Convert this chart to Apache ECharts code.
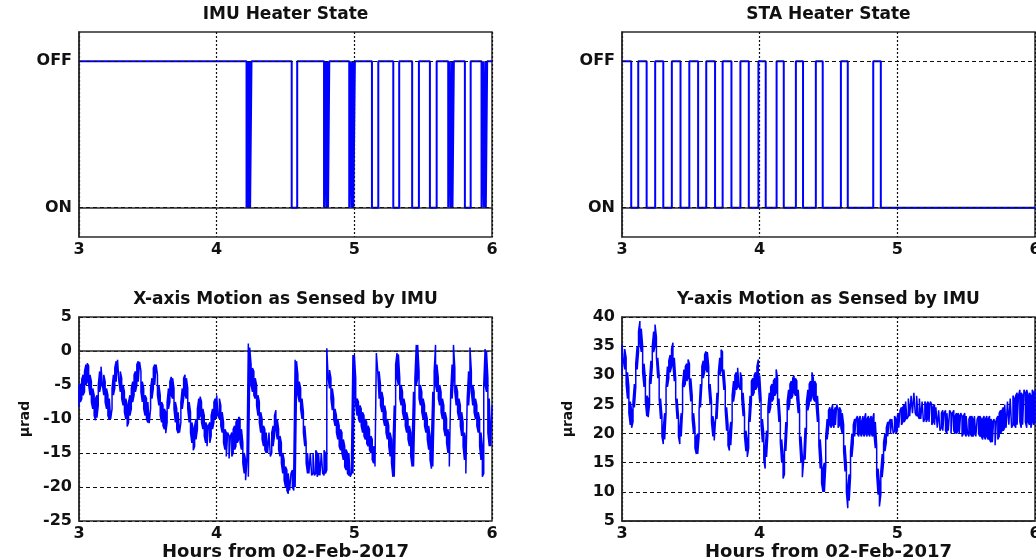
<!DOCTYPE html>
<html>
<head>
<meta charset="utf-8">
<title>Heater State and IMU Motion</title>
<script src="https://cdn.jsdelivr.net/npm/echarts@6/dist/echarts.min.js"></script>
<style>
  html, body { margin: 0; padding: 0; background: #fff; }
  #main { width: 1036px; height: 558px; }
</style>
</head>
<body>
<div id="main"></div>
<script>
// hours from 02-Feb-2017
var hourTicks = [3, 4, 5, 6];
var stateNames = {0: 'ON', 1: 'OFF'};

// heater toggles: time (h) and state from that time on (1 = OFF, 0 = ON)
var imuHeaterTimes = [3.0,
    4.217, 4.226, 4.230, 4.240, 4.243, 4.253,
    4.545, 4.585,
    4.780, 4.792, 4.796, 4.806, 4.809, 4.818,
    4.963, 4.975, 4.979, 4.990, 4.993, 5.004,
    5.128, 5.174,
    5.283, 5.326,
    5.420, 5.469,
    5.549, 5.598,
    5.682, 5.694, 5.698, 5.710, 5.713, 5.723,
    5.803, 5.845,
    5.924, 5.936, 5.940, 5.952, 5.955, 5.965,
    6.0];
var imuHeaterStates = [1,
    0, 1, 0, 1, 0, 1,
    0, 1,
    0, 1, 0, 1, 0, 1,
    0, 1, 0, 1, 0, 1,
    0, 1,
    0, 1,
    0, 1,
    0, 1,
    0, 1, 0, 1, 0, 1,
    0, 1,
    0, 1, 0, 1, 0, 1,
    1];

var staHeaterTimes = [3.0, 3.067,
    3.118, 3.179, 3.241, 3.300, 3.362, 3.425, 3.489, 3.553,
    3.612, 3.676, 3.731, 3.795, 3.860, 3.921, 3.991, 4.044,
    4.123, 4.175, 4.263, 4.315, 4.408, 4.458, 4.590, 4.640,
    4.825, 4.880, 6.0];
var staHeaterStates = [1, 0,
    1, 0, 1, 0, 1, 0, 1, 0,
    1, 0, 1, 0, 1, 0, 1, 0,
    1, 0, 1, 0, 1, 0, 1, 0,
    1, 0, 0];

// IMU motion, read as the low and high edge of the noise band
// in every 0.01 h slot starting at 3.00 h (one row = 0.1 h)
var motionStart = 3;
var motionStep = 0.01;

var xMotionLow = [
    -8.2, -7.5, -7.0, -6.5, -6.0, -5.0, -4.5, -5.0, -6.5, -7.5,
    -8.5, -9.5, -10.2, -9.8, -8.0, -6.0, -5.0, -5.0, -6.5, -7.5,
    -8.5, -9.5, -10.1, -10.0, -8.5, -6.5, -5.5, -4.5, -4.3, -4.5,
    -6.0, -7.0, -8.0, -9.0, -10.0, -11.1, -10.5, -9.5, -8.5, -7.5,
    -6.5, -6.0, -5.0, -4.5, -4.5, -6.0, -7.5, -8.5, -9.5, -10.0,
    -10.5, -10.6, -8.5, -7.0, -5.5, -5.0, -5.0, -6.5, -8.0, -9.5,
    -10.5, -11.0, -11.5, -12.1, -10.5, -8.5, -7.5, -6.5, -7.0, -8.5,
    -10.5, -11.5, -12.1, -12.0, -10.5, -8.5, -7.0, -6.5, -7.0, -8.5,
    -10.5, -12.0, -13.5, -14.6, -14.0, -13.0, -11.5, -10.0, -9.5, -10.5,
    -11.5, -12.5, -13.5, -14.0, -14.0, -13.5, -12.5, -11.5, -10.5, -10.0,
    -9.5, -9.5, -10.0, -11.0, -12.0, -13.5, -14.5, -15.5, -15.5, -15.8,
    -15.8, -15.5, -15.0, -14.5, -14.0, -13.5, -13.0, -13.5, -14.5, -16.5,
    -18.0, -19.0, -19.0, -18.5, -3.0, -5.0, -6.0, -6.5, -7.0, -8.0,
    -9.5, -10.5, -12.0, -13.0, -14.0, -14.5, -15.0, -15.0, -15.0, -15.5,
    -15.0, -14.0, -12.5, -11.5, -13.0, -14.5, -15.5, -16.5, -18.0, -19.0,
    -20.0, -20.5, -21.0, -20.5, -20.5, -20.0, -20.5, -20.0, -5.0, -6.5,
    -7.5, -8.5, -10.0, -12.0, -14.0, -16.5, -18.0, -18.0, -18.0, -18.3,
    -18.0, -18.3, -18.0, -18.5, -18.0, -18.3, -18.5, -18.0, -18.3, -18.0,
    -17.5, -4.0, -5.5, -7.0, -8.7, -10.0, -11.0, -12.0, -13.0, -14.0,
    -14.6, -15.0, -16.0, -17.0, -17.5, -18.0, -18.3, -18.5, -18.0, -18.0,
    -5.0, -8.0, -9.5, -10.0, -10.5, -11.0, -12.0, -12.5, -13.0, -13.6,
    -14.0, -14.5, -15.0, -16.0, -16.5, -17.0, -17.0, -3.0, -7.0, -8.0,
    -9.0, -10.0, -11.0, -12.0, -13.0, -14.0, -15.5, -16.5, -18.5, -18.5,
    -8.0, -4.0, -5.0, -7.0, -8.0, -9.0, -10.0, -11.0, -12.0, -13.0,
    -14.0, -15.5, -17.0, -17.0, -8.0, -5.0, -4.0, -7.0, -8.0, -9.0,
    -10.0, -11.0, -12.0, -13.0, -14.5, -16.0, -17.3, -17.0, -8.0, -5.0,
    -6.0, -7.0, -8.0, -9.0, -10.0, -11.5, -12.5, -13.5, -15.0, -17.0,
    -17.0, -7.0, -4.0, -6.0, -8.0, -9.0, -10.0, -11.0, -12.5, -14.0,
    -16.0, -18.0, -18.0, -8.0, -5.0, -6.0, -8.0, -9.0, -10.0, -11.0,
    -12.0, -14.0, -16.0, -18.5, -18.0, -5.0, -6.0, -12.0, -14.0, -14.0,
    -14.0
];
var xMotionHigh = [
    -5.2, -4.8, -4.2, -3.5, -3.0, -2.0, -1.8, -2.2, -3.5, -4.5,
    -5.5, -6.5, -7.0, -6.5, -5.0, -3.0, -2.3, -2.2, -3.5, -4.5,
    -5.5, -6.5, -7.0, -7.0, -5.5, -3.5, -2.5, -1.5, -1.3, -1.5,
    -3.0, -4.0, -5.0, -6.0, -7.0, -8.0, -7.5, -6.5, -5.5, -4.5,
    -3.5, -3.0, -2.0, -1.5, -1.6, -3.0, -4.5, -5.5, -6.5, -7.0,
    -7.5, -7.5, -5.5, -4.0, -2.5, -2.0, -2.0, -3.5, -5.0, -6.5,
    -7.5, -8.0, -8.5, -9.0, -7.5, -5.5, -4.5, -3.8, -4.0, -5.5,
    -7.5, -8.5, -9.0, -9.0, -7.5, -5.5, -4.0, -3.5, -4.0, -5.5,
    -7.5, -9.0, -10.5, -11.5, -11.0, -10.0, -8.5, -7.0, -6.7, -7.5,
    -8.5, -9.5, -10.5, -11.0, -11.0, -10.5, -9.5, -8.5, -7.5, -7.0,
    -6.5, -6.5, -7.0, -8.0, -9.0, -10.5, -11.5, -12.0, -12.0, -12.5,
    -12.5, -12.0, -11.5, -11.0, -10.5, -10.0, -9.7, -10.0, -11.5, -13.5,
    -15.0, -16.0, -16.0, 1.1, 0.5, -2.0, -2.5, -3.0, -4.0, -5.0,
    -6.5, -7.5, -9.0, -10.0, -11.0, -11.5, -12.0, -12.0, -12.0, -12.0,
    -12.0, -11.0, -9.5, -8.7, -10.0, -11.5, -12.5, -13.5, -15.0, -16.0,
    -17.0, -17.5, -18.0, -18.0, -18.0, -17.5, -18.0, -1.3, -1.5, -3.5,
    -4.5, -5.5, -7.0, -9.0, -11.0, -13.5, -15.0, -15.0, -15.0, -15.0,
    -15.0, -15.0, -14.6, -15.0, -15.0, -14.8, -15.0, -15.0, -14.6, -15.0,
    0.4, 0.4, -2.8, -4.0, -5.5, -7.0, -8.5, -9.5, -10.0, -11.0,
    -11.5, -12.0, -13.0, -14.0, -14.5, -15.0, -15.0, -15.0, -15.0, -0.6,
    -0.6, -4.0, -7.0, -7.5, -8.0, -8.5, -9.0, -9.5, -10.0, -10.5,
    -11.0, -11.5, -12.5, -13.0, -14.0, -14.5, -0.3, -0.3, -3.0, -5.0,
    -6.0, -7.0, -8.0, -9.0, -10.0, -11.0, -12.0, -13.0, -14.5, -8.0,
    -2.0, -0.3, -0.5, -4.0, -5.0, -6.0, -7.0, -8.0, -9.0, -10.0,
    -11.0, -12.0, -13.5, -6.0, -4.0, 0.9, 0.9, -3.0, -5.0, -6.0,
    -7.0, -8.0, -9.0, -10.0, -11.0, -12.5, -13.5, -6.0, -3.0, 0.9,
    -2.0, -4.0, -5.0, -6.0, -7.0, -8.0, -9.0, -10.0, -11.5, -13.0,
    -6.0, -2.0, 0.9, -2.5, -5.0, -6.0, -7.0, -8.0, -9.0, -10.5,
    -12.0, -13.5, -7.0, -3.0, 0.5, -3.0, -5.0, -6.0, -7.0, -8.0,
    -9.0, -10.0, -12.0, -14.0, -5.0, 0.3, 0.0, -4.0, -7.0, -7.0,
    -8.0
];

var yMotionLow = [
    30.0, 32.5, 31.0, 28.5, 26.0, 23.5, 21.5, 21.0, 22.0, 24.5,
    28.0, 31.0, 34.0, 35.5, 34.0, 30.5, 28.0, 25.5, 23.0, 22.8,
    25.0, 28.5, 31.5, 34.0, 35.0, 33.0, 29.5, 26.0, 22.5, 19.5,
    18.2, 19.0, 23.5, 28.0, 29.5, 30.5, 31.5, 32.0, 29.0, 26.0,
    22.5, 19.5, 18.2, 19.5, 24.0, 28.0, 28.5, 29.0, 29.5, 28.5,
    25.5, 22.5, 20.0, 17.5, 16.5, 16.5, 19.5, 24.5, 28.5, 29.5,
    30.5, 31.0, 30.5, 28.0, 25.0, 22.0, 19.5, 18.8, 19.0, 22.5,
    27.0, 30.0, 31.0, 30.5, 27.5, 24.0, 20.5, 18.0, 17.1, 18.0,
    22.0, 25.5, 27.0, 27.5, 28.0, 28.0, 27.5, 26.0, 23.0, 19.5,
    17.0, 16.0, 17.5, 22.0, 25.5, 26.5, 27.0, 27.5, 28.0, 28.5,
    25.5, 21.5, 18.5, 15.5, 14.0, 16.0, 20.0, 23.5, 24.5, 25.5,
    26.0, 26.5, 27.0, 25.5, 22.0, 18.5, 15.0, 12.3, 13.0, 17.0,
    21.5, 24.0, 25.5, 26.0, 26.5, 27.0, 26.5, 26.0, 23.5, 19.0,
    15.0, 12.5, 12.5, 15.5, 21.0, 24.0, 25.0, 25.5, 26.5, 26.0,
    25.5, 25.0, 22.0, 18.0, 14.0, 11.5, 10.0, 10.0, 14.5, 19.0,
    21.0, 21.5, 21.0, 21.5, 21.0, 21.5, 21.5, 21.0, 21.5, 21.0,
    20.0, 17.0, 13.5, 10.0, 7.2, 8.5, 12.5, 16.0, 18.5, 19.5,
    19.5, 20.0, 19.5, 20.0, 19.5, 20.0, 19.5, 20.0, 19.5, 20.0,
    19.5, 20.0, 19.5, 20.0, 17.5, 13.0, 9.5, 7.5, 9.5, 12.5,
    15.0, 17.0, 18.5, 19.5, 19.5, 20.0, 20.0, 20.0, 20.5, 20.0,
    20.5, 21.0, 21.0, 21.5, 22.0, 22.0, 22.5, 22.5, 23.0, 23.0,
    23.0, 23.5, 23.5, 23.5, 23.0, 23.0, 22.5, 22.5, 22.5, 22.0,
    22.5, 22.0, 22.5, 22.0, 22.0, 21.5, 22.0, 21.5, 21.5, 21.0,
    21.0, 20.5, 21.0, 20.5, 20.5, 20.5, 20.0, 20.5, 20.5, 20.0,
    20.0, 20.5, 20.0, 20.0, 20.5, 20.0, 20.0, 19.5, 20.0, 20.0,
    19.5, 20.0, 19.5, 20.0, 19.5, 19.5, 20.0, 19.5, 19.5, 20.0,
    19.5, 19.5, 19.0, 19.5, 19.0, 19.5, 19.0, 19.0, 18.5, 18.5,
    18.5, 18.0, 18.2, 19.0, 19.5, 20.0, 20.5, 20.5, 21.0, 21.0,
    21.0, 21.5, 21.5, 21.0, 21.5, 21.5, 21.0, 21.5, 21.5, 22.0,
    21.0, 21.5, 21.5, 22.0, 21.0, 22.0, 21.5, 21.0, 22.0, 21.5,
    22.0
];
var yMotionHigh = [
    35.3, 35.3, 34.5, 33.0, 30.5, 28.0, 25.5, 24.0, 25.5, 28.5,
    32.0, 35.0, 37.5, 39.3, 38.0, 35.0, 32.0, 29.5, 26.5, 26.0,
    29.0, 32.5, 35.0, 37.5, 38.7, 36.5, 33.0, 30.0, 26.0, 23.0,
    21.0, 23.5, 28.0, 31.5, 32.5, 33.5, 34.5, 35.6, 33.0, 29.5,
    26.0, 23.0, 21.0, 23.5, 28.5, 31.0, 31.5, 32.0, 32.7, 32.0,
    29.5, 26.5, 23.5, 21.0, 19.5, 20.0, 24.0, 28.5, 31.5, 32.5,
    33.5, 34.1, 34.0, 31.5, 28.5, 25.5, 23.0, 21.5, 22.5, 27.0,
    30.5, 33.0, 34.4, 34.0, 31.0, 28.0, 24.5, 21.5, 20.0, 22.0,
    26.5, 29.0, 30.0, 30.5, 31.3, 31.0, 30.5, 29.5, 27.0, 23.5,
    20.5, 19.0, 22.0, 26.5, 29.0, 29.5, 30.0, 30.5, 31.5, 32.7,
    30.0, 26.0, 22.5, 20.0, 17.5, 20.5, 24.5, 27.0, 28.0, 28.5,
    29.0, 29.5, 31.0, 29.5, 26.0, 22.5, 19.0, 16.0, 17.0, 22.0,
    25.5, 27.5, 28.5, 29.0, 29.5, 29.9, 29.5, 29.0, 27.5, 24.0,
    19.5, 16.0, 15.5, 21.0, 25.5, 27.5, 28.5, 29.0, 30.5, 29.5,
    29.0, 28.5, 26.5, 22.5, 19.0, 15.5, 14.0, 15.0, 19.5, 22.5,
    24.0, 24.5, 24.0, 25.0, 24.0, 24.5, 25.0, 24.0, 24.5, 24.0,
    23.5, 21.5, 18.0, 14.5, 11.0, 13.0, 17.0, 20.0, 21.5, 22.5,
    22.5, 23.0, 22.5, 23.0, 22.0, 23.0, 22.5, 23.5, 22.5, 23.0,
    22.5, 23.0, 22.5, 23.5, 22.0, 18.0, 14.0, 11.5, 13.5, 16.5,
    18.5, 20.0, 21.0, 22.0, 22.0, 22.5, 22.5, 22.5, 23.0, 22.5,
    23.0, 23.5, 24.0, 24.5, 24.5, 25.0, 25.5, 25.5, 26.0, 26.0,
    26.5, 26.5, 27.0, 27.0, 26.5, 26.5, 26.0, 26.0, 25.5, 25.5,
    25.5, 25.0, 25.5, 25.0, 25.5, 25.0, 24.5, 25.0, 24.5, 24.5,
    24.0, 24.0, 23.5, 24.0, 23.5, 24.0, 23.5, 23.5, 24.0, 23.5,
    23.5, 24.0, 23.0, 23.5, 23.5, 23.0, 23.5, 23.0, 23.0, 23.5,
    23.0, 23.0, 22.5, 23.0, 23.0, 22.5, 23.0, 23.0, 22.5, 23.0,
    23.0, 22.5, 22.5, 23.0, 22.5, 23.0, 22.5, 23.0, 22.5, 22.0,
    22.5, 22.0, 22.5, 23.0, 23.5, 24.0, 24.0, 24.5, 25.0, 25.0,
    25.5, 25.5, 26.0, 26.0, 26.5, 26.0, 26.5, 27.0, 26.5, 27.5,
    27.0, 26.5, 27.5, 27.0, 27.5, 26.5, 27.0, 26.5, 27.5, 27.0,
    27.5
];

function pairs(xs, ys) {
    var out = [];
    for (var i = 0; i < ys.length; i++) out.push([xs[i], ys[i]]);
    return out;
}
// trace the band: each slot is drawn low->high or high->low in turn
function band(lows, highs) {
    var out = [];
    for (var i = 0; i < lows.length; i++) {
        var t = +(motionStart + i * motionStep).toFixed(3);
        if (i % 2 === 0) {
            out.push([t, lows[i]], [t, highs[i]]);
        } else {
            out.push([t, highs[i]], [t, lows[i]]);
        }
    }
    return out;
}

var myChart = echarts.init(document.getElementById('main'), null, {renderer: 'canvas'});

var FONT = 'DejaVu Sans';
var BLUE = '#0000ff';
var FRAME = '#2b2b2b';

// plot boxes: IMU heater, STA heater, X motion, Y motion
var boxes = [
    {left: 79,  top: 32,  width: 413, height: 205},
    {left: 622, top: 32,  width: 413, height: 205},
    {left: 79,  top: 317, width: 413, height: 204},
    {left: 622, top: 317, width: 413, height: 204}
];
var titles = ['IMU Heater State', 'STA Heater State',
              'X-axis Motion as Sensed by IMU', 'Y-axis Motion as Sensed by IMU'];

var grid = boxes.map(function (b) {
    return {
        left: b.left, top: b.top, width: b.width, height: b.height,
        show: true, borderColor: FRAME, borderWidth: 1.5,
        containLabel: false, outerBoundsMode: 'none'
    };
});

var title = boxes.map(function (b, i) {
    return {
        text: titles[i],
        left: b.left + b.width / 2,
        top: b.top - 26,
        textAlign: 'center',
        padding: 0,
        textStyle: {fontFamily: FONT, fontWeight: 'bold', fontSize: 17, color: '#111'}
    };
});

var xAxis = boxes.map(function (b, i) {
    var ax = {
        type: 'value', gridIndex: i,
        min: hourTicks[0], max: hourTicks[hourTicks.length - 1], interval: 1,
        axisLine: {show: true, lineStyle: {color: FRAME, width: 1.5}},
        axisTick: {show: false},
        axisLabel: {fontFamily: FONT, fontWeight: 'bold', fontSize: 16, color: '#111', margin: 5},
        splitLine: {show: true, lineStyle: {color: '#111', type: [2, 2], width: 1.2}}
    };
    if (i >= 2) {
        ax.name = 'Hours from 02-Feb-2017';
        ax.nameLocation = 'middle';
        ax.nameGap = 18;
        ax.nameTextStyle = {fontFamily: FONT, fontWeight: 'bold', fontSize: 18, color: '#111'};
    }
    return ax;
});

var yAxis = [0, 1].map(function (i) {
    return {
        type: 'value', gridIndex: i,
        min: -0.2, max: 1.2, interval: 0.2,
        axisLine: {show: true, lineStyle: {color: FRAME, width: 1.5}},
        axisTick: {show: false},
        splitLine: {show: false},
        axisLabel: {
            fontFamily: FONT, fontWeight: 'bold', fontSize: 16, color: '#111', margin: 7,
            formatter: function (v) {
                if (Math.abs(v) < 1e-6) return stateNames[0];
                if (Math.abs(v - 1) < 1e-6) return stateNames[1];
                return '';
            }
        }
    };
}).concat([
    {min: -25, max: 5},
    {min: 5, max: 40}
].map(function (r, k) {
    return {
        type: 'value', gridIndex: k + 2,
        min: r.min, max: r.max, interval: 5,
        name: 'μrad', nameLocation: 'middle', nameGap: 47, nameRotate: 90,
        nameTextStyle: {fontFamily: FONT, fontWeight: 'bold', fontSize: 14, color: '#111'},
        axisLine: {show: true, lineStyle: {color: FRAME, width: 1.5}},
        axisTick: {show: false},
        axisLabel: {fontFamily: FONT, fontWeight: 'bold', fontSize: 16, color: '#111', margin: 7},
        splitLine: {show: true, lineStyle: {color: '#111', type: [4, 3], width: 1}}
    };
}));

function stateGuides(i) {
    return {
        type: 'line', xAxisIndex: i, yAxisIndex: i, data: [], z: 1,
        silent: true,
        markLine: {
            silent: true, symbol: 'none', animation: false,
            label: {show: false},
            lineStyle: {color: '#111', type: [4, 3], width: 1},
            data: [{yAxis: 0}, {yAxis: 1}]
        }
    };
}

var series = [
    stateGuides(0),
    stateGuides(1),
    {
        type: 'line', xAxisIndex: 0, yAxisIndex: 0, z: 3, step: 'end',
        data: pairs(imuHeaterTimes, imuHeaterStates),
        showSymbol: false, lineStyle: {color: BLUE, width: 2}
    },
    {
        type: 'line', xAxisIndex: 1, yAxisIndex: 1, z: 3, step: 'end',
        data: pairs(staHeaterTimes, staHeaterStates),
        showSymbol: false, lineStyle: {color: BLUE, width: 2}
    },
    {
        type: 'line', xAxisIndex: 2, yAxisIndex: 2, z: 3,
        data: band(xMotionLow, xMotionHigh),
        showSymbol: false, lineStyle: {color: BLUE, width: 1.5}
    },
    {
        type: 'line', xAxisIndex: 3, yAxisIndex: 3, z: 3,
        data: band(yMotionLow, yMotionHigh),
        showSymbol: false, lineStyle: {color: BLUE, width: 1.5}
    }
];

var option = {
    backgroundColor: '#ffffff',
    animation: false,
    title: title,
    grid: grid,
    xAxis: xAxis,
    yAxis: yAxis,
    series: series
};

myChart.setOption(option);
</script>
</body>
</html>
